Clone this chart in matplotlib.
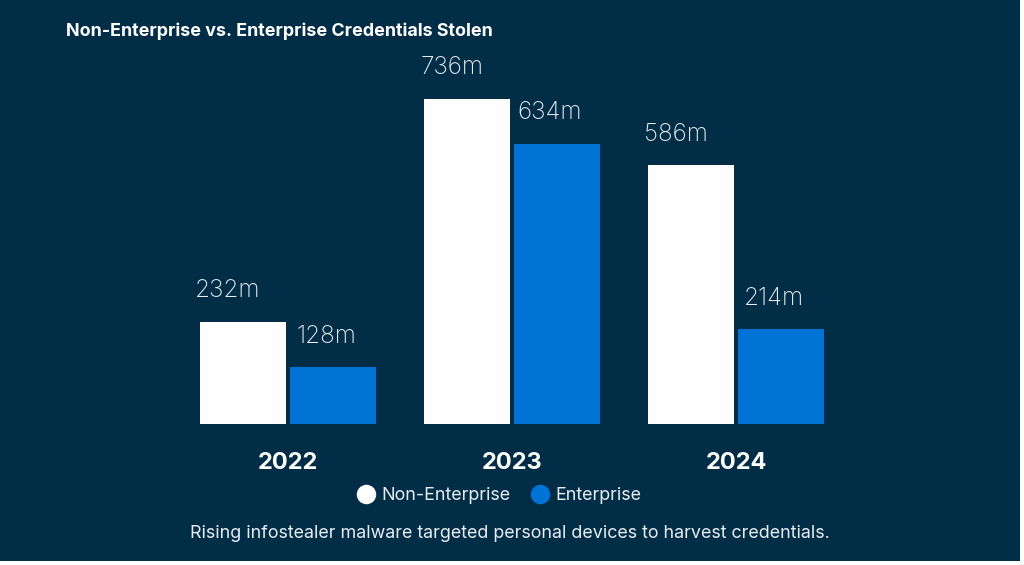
import matplotlib.pyplot as plt
from matplotlib.lines import Line2D
from matplotlib.patches import Rectangle
import numpy as np

plt.rcParams["font.family"] = ["Inter", "DejaVu Sans"]

# data
YEARS = ["2022", "2023", "2024"]
NON_ENTERPRISE = [232, 736, 586]
ENTERPRISE = [128, 634, 214]
SERIES = ["Non-Enterprise", "Enterprise"]

NAVY = "#022d47"
WHITE = "#ffffff"
BLUE = "#0073d7"
TEXT = "#e8edf1"

W, H = 1024, 565
fig = plt.figure(figsize=(W / 100, H / 100), dpi=100, facecolor="white")
# navy panel (thin white frame on right / bottom like the source)
fig.patches.append(Rectangle((0, 4 / H), 1020 / W, 1 - 4 / H,
                             transform=fig.transFigure, facecolor=NAVY,
                             edgecolor="none", zorder=-10))

ax = fig.add_axes([176 / W, 141 / H, 672 / W, 364 / H])
ax.set_facecolor("none")
ax.set_zorder(5)
x = np.arange(len(YEARS))
width = 86 / 224
off = 45 / 224
b1 = ax.bar(x - off, NON_ENTERPRISE, width, color=WHITE)
b2 = ax.bar(x + off, ENTERPRISE, width, color=BLUE)
for bs, vals, dx in ((b1, NON_ENTERPRISE, -11), (b2, ENTERPRISE, -5)):
    for b, v in zip(bs, vals):
        ax.annotate(f"{v}m", (b.get_x() + b.get_width() / 2, v),
                    xytext=(dx, 14), textcoords="offset points",
                    ha="center", va="bottom", fontsize=17.5,
                    color=TEXT, fontweight="light")
ax.set_xlim(-0.5, 2.5)
ax.set_ylim(0, 824)
ax.set_xticks(x)
ax.set_xticklabels(YEARS, fontsize=17, fontweight="bold", color=WHITE)
ax.tick_params(axis="x", length=0, pad=20)
ax.set_yticks([])
for s in ax.spines.values():
    s.set_visible(False)

fig.text(66 / W, 1 - 31 / H, "Non-Enterprise vs. Enterprise Credentials Stolen",
         fontsize=12.9, fontweight="bold", color=WHITE, va="center")

handles = [Line2D([], [], marker="o", linestyle="none", markersize=13,
                  markerfacecolor=c, markeredgecolor=c) for c in (WHITE, BLUE)]
leg = fig.legend(handles, SERIES, loc="center", bbox_to_anchor=(499 / W, 1 - 496 / H),
                 ncol=2, frameon=False, fontsize=12.9, handletextpad=0.38,
                 columnspacing=1.12, handlelength=1.0)
for t in leg.get_texts():
    t.set_color(TEXT)

fig.text(510 / W, 1 - 533 / H,
         "Rising infostealer malware targeted personal devices to harvest credentials.",
         fontsize=12.9, color=TEXT, ha="center", va="center")

fig.savefig("out.png", dpi=100, facecolor=fig.get_facecolor())
